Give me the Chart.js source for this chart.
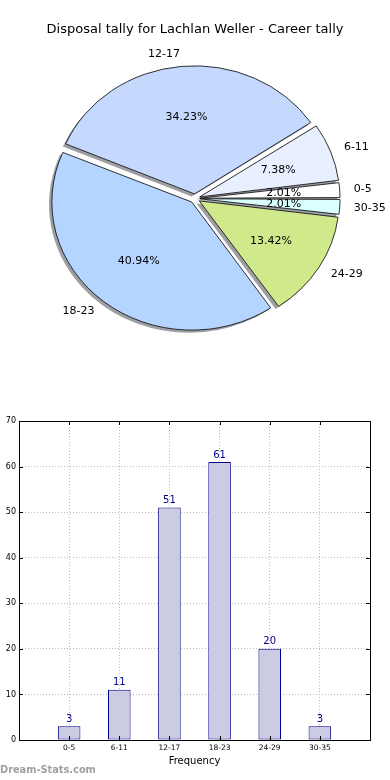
<!DOCTYPE html>
<html>
<head>
<meta charset="utf-8">
<script src="https://cdn.jsdelivr.net/npm/chart.js@4.4.1/dist/chart.umd.min.js"></script>
<style>
  html, body { margin: 0; padding: 0; background: #fff; }
  #wrap { position: relative; width: 390px; height: 780px; overflow: hidden; }
  #pieBox { position: absolute; left: 0; top: 0; width: 390px; height: 400px; }
  #barBox { position: absolute; left: 0; top: 400px; width: 390px; height: 380px; }
</style>
</head>
<body>
<div id="wrap">
  <div id="pieBox"><canvas id="pieChart"></canvas></div>
  <div id="barBox"><canvas id="barChart"></canvas></div>
</div>
<script>
// ---- data ----
const chartTitle = "Disposal tally for Lachlan Weller - Career tally";
const categories = ["0-5", "6-11", "12-17", "18-23", "24-29", "30-35"];
const tallies = [3, 11, 51, 61, 20, 3];
const yTicks = [0, 10, 20, 30, 40, 50, 60, 70];
const xAxisTitle = "Frequency";
const watermark = "Dream-Stats.com";

// ---- styles ----
const FONT = "'DejaVu Sans', 'Liberation Sans', sans-serif";
const SLICE_COLORS = ["#ffffff", "#e8f0ff", "#c5d9ff", "#b3d5ff", "#cfe98b", "#d9ffff"];
const SHADOW_COLOR = "rgba(60,64,72,0.5)";
const PIE_R = 140;
const PIE_SY = 0.915;     // pie is a bit squashed vertically
const EXPLODE = 5;
const SHADOW_DX = -2.8, SHADOW_DY = 2.5;
const BAR_FILL = "#cbcbe4";
const BAR_EDGE = "#00008b";

const total = tallies.reduce((a, b) => a + b, 0);

// chart.js draws clockwise, reference goes counter-clockwise from 3 o'clock
const pieOrder = categories.map((_, i) => i).reverse();

function squash(ctx, cx, cy) {
  ctx.translate(cx, cy);
  ctx.scale(1, PIE_SY);
  ctx.translate(-cx, -cy);
}

/* -----------------------------------------------------
   pie: shadows, squash, labels
----------------------------------------------------- */
const pieDecor = {
  id: "pieDecor",
  beforeDatasetsDraw(chart) {
    const ctx = chart.ctx;
    const meta = chart.getDatasetMeta(0);
    const arcs = meta.data;
    if (!arcs.length) return;
    const cx = arcs[0].x, cy = arcs[0].y;
    const baseR = meta.controller.outerRadius;

    ctx.save();
    ctx.translate(SHADOW_DX, SHADOW_DY);
    squash(ctx, cx, cy);
    ctx.fillStyle = SHADOW_COLOR;
    arcs.forEach((a) => {
      const mid = (a.startAngle + a.endAngle) / 2;
      const ox = a.x + Math.cos(mid) * EXPLODE;
      const oy = a.y + Math.sin(mid) * EXPLODE;
      ctx.beginPath();
      ctx.moveTo(ox, oy);
      ctx.arc(ox, oy, baseR, a.startAngle, a.endAngle);
      ctx.closePath();
      ctx.fill();
    });
    ctx.restore();

    // chart.js grows thin offset slices, undo that
    arcs.forEach((a) => {
      const fix = 1 - Math.sin(Math.min(Math.PI, a.circumference || 0));
      a.outerRadius = baseR - EXPLODE * fix;
    });

    ctx.save();
    squash(ctx, cx, cy);
  },
  afterDatasetsDraw(chart) {
    const ctx = chart.ctx;
    ctx.restore();
    const meta = chart.getDatasetMeta(0);
    const baseR = meta.controller.outerRadius;
    ctx.save();
    ctx.font = `11px ${FONT}`;
    ctx.fillStyle = "#000";
    ctx.textBaseline = "middle";
    meta.data.forEach((a, k) => {
      const i = pieOrder[k];
      const mid = (a.startAngle + a.endAngle) / 2;
      const c = Math.cos(mid), s = Math.sin(mid);
      const px = (d) => a.x + c * (EXPLODE + d);
      const py = (d) => a.y + s * (EXPLODE + d) * PIE_SY;
      ctx.textAlign = c >= 0 ? "left" : "right";
      ctx.fillText(categories[i], px(1.1 * baseR), py(1.1 * baseR));
      ctx.textAlign = "center";
      const pct = (tallies[i] / total * 100).toFixed(2) + "%";
      ctx.fillText(pct, px(0.6 * baseR), py(0.6 * baseR));
    });
    ctx.restore();
  }
};

new Chart(document.getElementById("pieChart"), {
  type: "pie",
  data: {
    labels: pieOrder.map((i) => categories[i]),
    datasets: [{
      data: pieOrder.map((i) => tallies[i]),
      backgroundColor: pieOrder.map((i) => SLICE_COLORS[i]),
      borderColor: "#111",
      borderWidth: 0.9,
      borderJoinStyle: "miter",
      offset: EXPLODE * 4,
      clip: false
    }]
  },
  options: {
    responsive: true,
    maintainAspectRatio: false,
    animation: false,
    events: [],
    rotation: 90,
    radius: PIE_R,
    layout: { padding: { left: 0, right: 0, top: 0, bottom: 50.6 } },
    plugins: {
      legend: { display: false },
      tooltip: { enabled: false },
      title: {
        display: true,
        text: chartTitle,
        color: "#000",
        font: { family: FONT, size: 13, weight: "normal" },
        padding: { top: 22, bottom: 10 }
      }
    }
  },
  plugins: [pieDecor]
});

/* -----------------------------------------------------
   bar chart
----------------------------------------------------- */
// one empty slot each side, so the axis runs from -1 to 6
const xLabels = ["", ...categories, ""];
const barValues = [null, ...tallies, null];

const barDecor = {
  id: "barDecor",
  afterDatasetsDraw(chart) {
    const ctx = chart.ctx;
    ctx.save();
    ctx.font = `10px ${FONT}`;
    ctx.fillStyle = BAR_EDGE;
    ctx.textAlign = "center";
    ctx.textBaseline = "bottom";
    chart.getDatasetMeta(0).data.forEach((bar, i) => {
      const v = barValues[i];
      if (v == null) return;
      ctx.fillText(String(v), bar.x, bar.y - 2);
    });
    ctx.restore();
  },
  afterDraw(chart) {
    const ctx = chart.ctx;
    const { left, right, top, bottom } = chart.chartArea;
    const xs = chart.scales.x, ys = chart.scales.y;
    ctx.save();
    ctx.strokeStyle = "#000";
    ctx.lineWidth = 1;
    ctx.beginPath();
    // inward ticks
    yTicks.forEach((v) => {
      const y = Math.round(ys.getPixelForValue(v)) + 0.5;
      ctx.moveTo(left, y); ctx.lineTo(left + 4, y);
      ctx.moveTo(right, y); ctx.lineTo(right - 4, y);
    });
    categories.forEach((_, i) => {
      const x = Math.round(xs.getPixelForValue(i + 1)) + 0.5;
      ctx.moveTo(x, bottom); ctx.lineTo(x, bottom - 4);
      ctx.moveTo(x, top); ctx.lineTo(x, top + 4);
    });
    ctx.stroke();
    ctx.strokeRect(Math.round(left) + 0.5, Math.round(top) + 0.5,
      Math.round(right - left), Math.round(bottom - top));

    ctx.font = `bold 9.8px ${FONT}`;
    ctx.fillStyle = "#a0a0a0";
    ctx.textAlign = "left";
    ctx.textBaseline = "middle";
    ctx.fillText(watermark, 0, 370);
    ctx.restore();
  }
};

new Chart(document.getElementById("barChart"), {
  type: "bar",
  data: {
    labels: xLabels,
    datasets: [{
      data: barValues,
      backgroundColor: BAR_FILL,
      borderColor: BAR_EDGE,
      borderWidth: 1,
      borderSkipped: false,
      barPercentage: 0.45,
      categoryPercentage: 1
    }]
  },
  options: {
    responsive: true,
    maintainAspectRatio: false,
    animation: false,
    events: [],
    layout: { padding: { left: 0, right: 20, top: 21, bottom: 0 } },
    plugins: {
      legend: { display: false },
      tooltip: { enabled: false }
    },
    scales: {
      x: {
        offset: false,
        z: 1,
        grid: { color: "#bbb", lineWidth: 1, drawTicks: false, offset: false },
        border: { display: false, dash: [1, 2] },
        ticks: {
          color: "#000",
          font: { family: FONT, size: 7.5 },
          padding: 4,
          autoSkip: false,
          maxRotation: 0
        },
        title: {
          display: true,
          text: xAxisTitle,
          color: "#000",
          font: { family: FONT, size: 10 },
          padding: { top: 0, bottom: 13 }
        },
        afterFit(s) { s.height = 40; }
      },
      y: {
        min: 0,
        max: 70,
        z: 1,
        grid: { color: "#bbb", lineWidth: 1, drawTicks: false },
        border: { display: false, dash: [1, 2] },
        ticks: {
          color: "#000",
          font: { family: FONT, size: 8 },
          padding: 3
        },
        afterBuildTicks(s) { s.ticks = yTicks.map((v) => ({ value: v })); },
        afterFit(s) { s.width = 19; }
      }
    }
  },
  plugins: [barDecor]
});
</script>
</body>
</html>
